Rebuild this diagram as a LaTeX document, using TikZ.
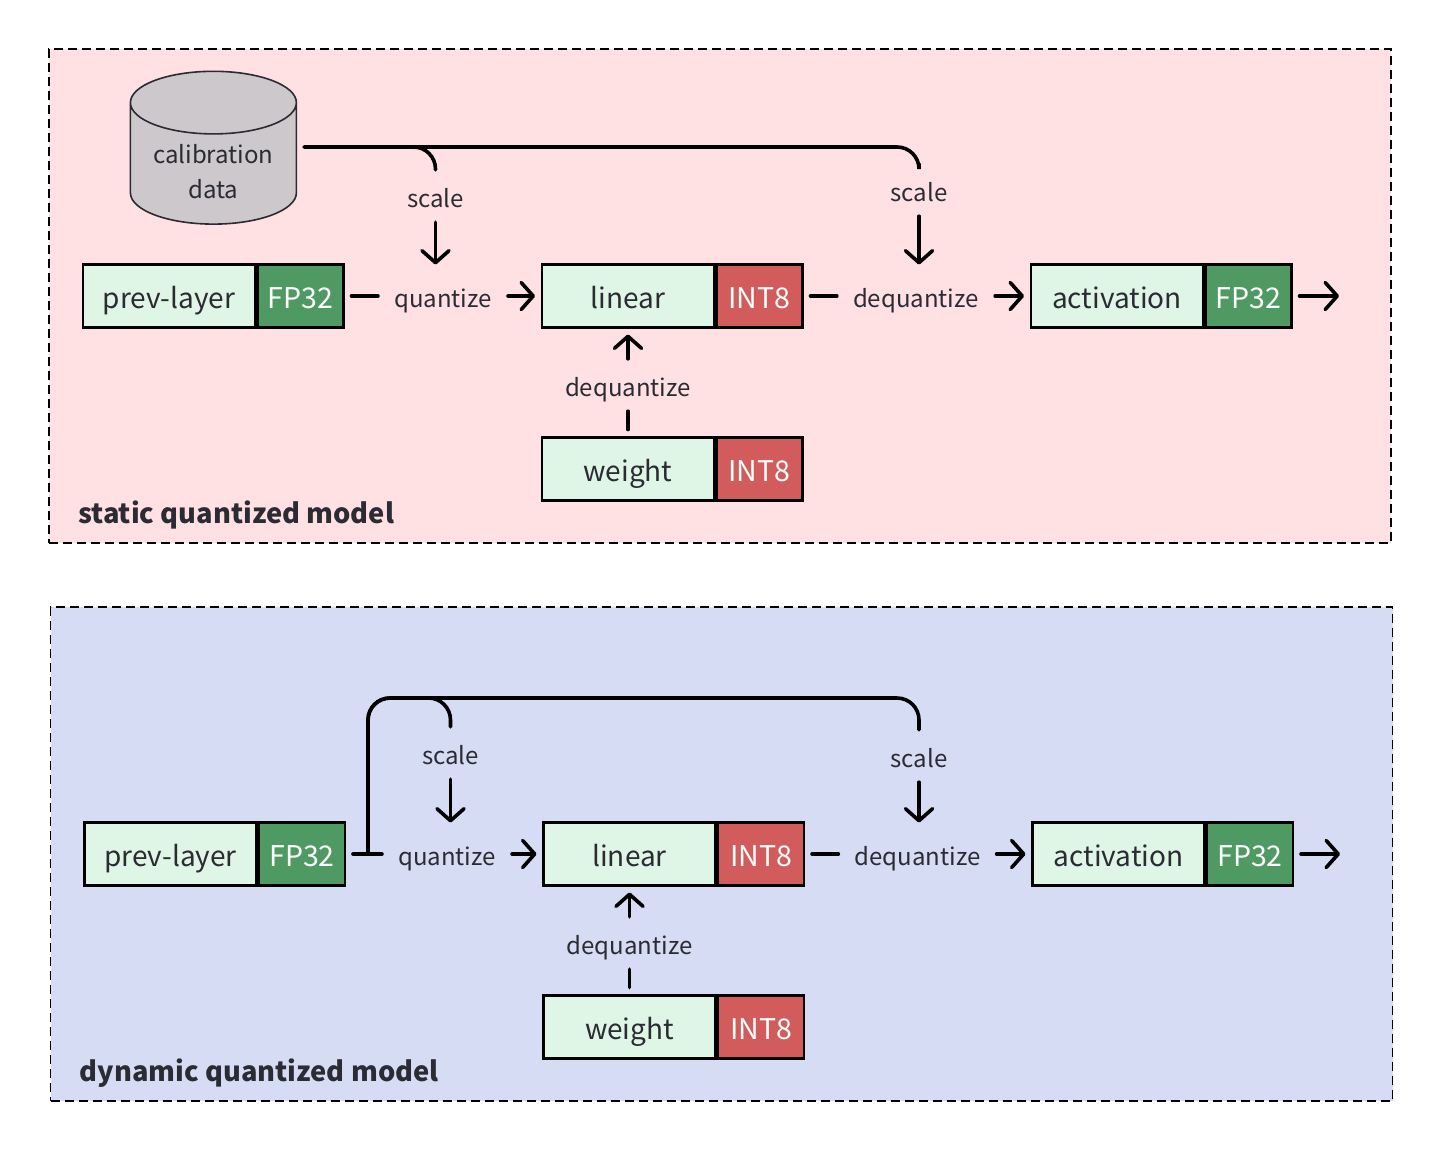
\documentclass[tikz,border=0pt]{standalone}
\usepackage{fontspec}
\setmainfont{Noto Sans CJK SC}
\usetikzlibrary{arrows.meta,shapes.geometric}
\definecolor{pinkbg}{HTML}{FFE1E3}
\definecolor{bluebg}{HTML}{D7DCF5}
\definecolor{layergreen}{HTML}{DFF5E6}
\definecolor{tagreen}{HTML}{4F9A63}
\definecolor{tagred}{HTML}{D15C5B}
\definecolor{dbgray}{HTML}{CCC8CC}
\definecolor{inkdark}{HTML}{2B2B33}
\tikzset{
    panel/.style={draw=black, dash pattern=on 9pt off 5pt, line width=1.9pt, minimum width=1342pt, minimum height=494pt, outer sep=0pt},
    layerbox/.style={draw=black, line width=2.4pt, fill=layergreen, text=inkdark, minimum width=172pt, minimum height=63pt, outer sep=0pt, inner sep=0pt, text height=31pt, text depth=6pt, font=\fontsize{28}{36}\selectfont},
    fpbox/.style={layerbox, fill=tagreen, text=white, minimum width=86pt, font=\fontsize{28.5}{36}\selectfont},
    intbox/.style={fpbox, fill=tagred},
    lbl/.style={text=inkdark, inner xsep=16pt, inner ysep=13pt, text height=24pt, text depth=2pt, font=\fontsize{24}{32}\selectfont},
    title/.style={anchor=west, text=inkdark, inner sep=0pt, font=\fontsize{27.3}{36}\selectfont\bfseries},
    conn/.style={line width=3.6pt, line cap=round, draw=black},
    from box/.style={conn, shorten <=8pt},
    arrow/.style={conn, -{Straight Barb[length=12pt,width=27pt,line width=3.6pt,round]}},
    to box/.style={arrow, shorten >=7pt},
    branch/.style={conn, rounded corners=22pt},
}
\begin{document}
\begin{tikzpicture}[x=1pt,y=-1pt]
    \useasboundingbox (0,0) rectangle (1442,1152);

    % static quantized model
    \node[panel, fill=pinkbg] (static) at (720,296) {};
    \node[title] (statictitle) at (78,515) {static quantized model};

    \node[draw=inkdark, line width=1.6pt, fill=dbgray, shape=cylinder, shape border rotate=90, aspect=0.52, minimum width=166pt, inner xsep=0pt, inner ysep=-19.25pt, align=center, text=inkdark, text height=83pt, text depth=13.6pt, font=\fontsize{24}{35}\selectfont] (calib) at (213.4,163.75) {calibration\\data};

    \node[layerbox] (prev) at (169,296) {prev-layer};
    \node[fpbox] (prevtag) at (300.5,296) {FP32};
    \node[layerbox] (linear) at (628,296) {linear};
    \node[intbox] (lineartag) at (759.5,296) {INT8};
    \node[layerbox] (activ) at (1117,296) {activation};
    \node[fpbox] (activtag) at (1248.5,296) {FP32};
    \node[layerbox] (weight) at (628,469) {weight};
    \node[intbox] (weighttag) at (759.5,469) {INT8};

    \node[lbl] (quant) at (443,296) {quantize};
    \node[lbl] (dequant) at (916,296) {dequantize};
    \node[lbl] (weightdq) at (628,385) {dequantize};
    \node[lbl] (scaleq) at (435.5,196) {scale};
    \node[lbl] (scaled) at (919,190) {scale};
    \coordinate (out) at (1339,296);

    \draw[from box] (prevtag) -- (quant);
    \draw[to box] (quant) -- (linear);
    \draw[from box] (lineartag) -- (dequant);
    \draw[to box] (dequant) -- (activ);
    \draw[arrow, shorten <=8pt] (activtag) -- (out);
    \draw[to box] (weightdq) -- (linear);
    \draw[from box] (weight) -- (weightdq);
    \draw[arrow] (scaleq.south) -- (scaleq.south |- linear.north);
    \draw[arrow] (scaled.south) -- (scaled.south |- linear.north);
    \draw[branch] (calib.east |- 0,147) ++(7,0) -| (scaleq.north);
    \draw[branch] (calib.east |- 0,147) ++(7,0) -| (scaled.north);

    % dynamic quantized model
    \node[panel, fill=bluebg] (dynamic) at (721.5,854) {};
    \node[title] (dynamictitle) at (79.5,1073) {dynamic quantized model};

    \node[layerbox] (dprev) at (170.5,854) {prev-layer};
    \node[fpbox] (dprevtag) at (302,854) {FP32};
    \node[layerbox] (dlinear) at (629.5,854) {linear};
    \node[intbox] (dlineartag) at (761,854) {INT8};
    \node[layerbox] (dactiv) at (1118.5,854) {activation};
    \node[fpbox] (dactivtag) at (1250,854) {FP32};
    \node[layerbox] (dweight) at (629.5,1027) {weight};
    \node[intbox] (dweighttag) at (761,1027) {INT8};

    \node[lbl] (dquant) at (447,854) {quantize};
    \node[lbl] (ddequant) at (917.5,854) {dequantize};
    \node[lbl] (dweightdq) at (629.5,943) {dequantize};
    \node[lbl] (dscaleq) at (450.5,753) {scale};
    \node[lbl] (dscaled) at (919,756) {scale};
    \coordinate (dout) at (1340,854);
    \coordinate (split) at (368,854);

    \draw[from box] (dprevtag) -- (dquant);
    \draw[to box] (dquant) -- (dlinear);
    \draw[from box] (dlineartag) -- (ddequant);
    \draw[to box] (ddequant) -- (dactiv);
    \draw[arrow, shorten <=8pt] (dactivtag) -- (dout);
    \draw[to box] (dweightdq) -- (dlinear);
    \draw[from box] (dweight) -- (dweightdq);
    \draw[arrow] (dscaleq.south) -- (dscaleq.south |- dlinear.north);
    \draw[arrow] (dscaled.south) -- (dscaled.south |- dlinear.north);
    \draw[branch] (split) |- (450.5,698) -- (dscaleq.north);
    \draw[branch] (split) |- (919,698) -- (dscaled.north);
\end{tikzpicture}
\end{document}
